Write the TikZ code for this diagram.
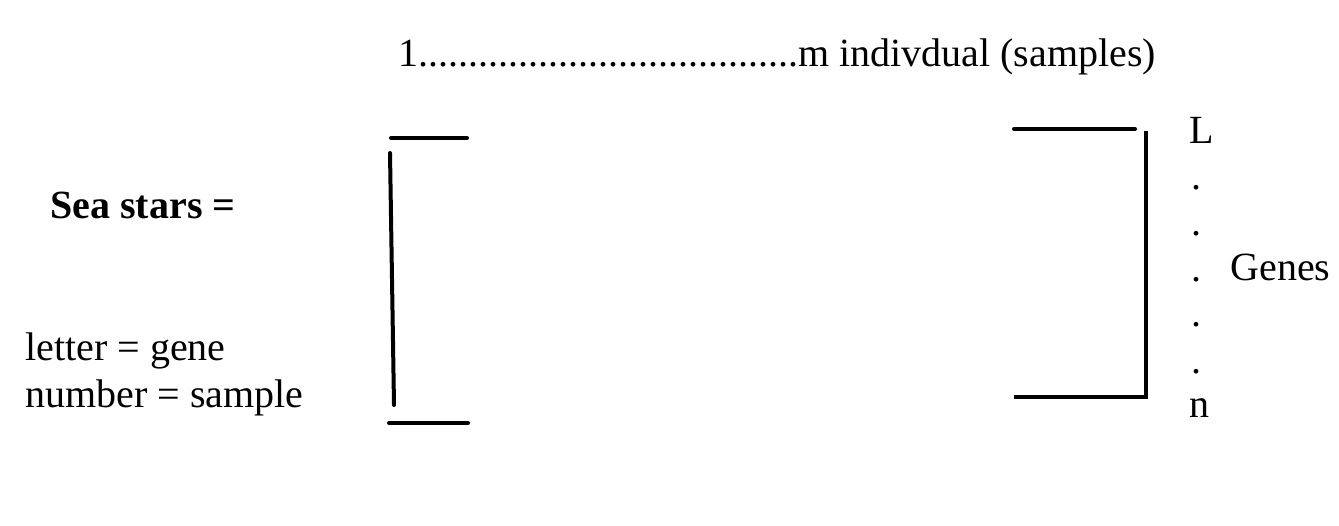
\documentclass[tikz,border=0pt]{standalone}
\usepackage{fontspec}
\setmainfont{Liberation Serif}
\begin{document}
\begin{tikzpicture}[x=0.5pt,y=-0.5pt,
  lbl/.style={inner sep=0pt, anchor=base west, font=\fontsize{20}{24}\selectfont},
  brk/.style={line width=2pt, line cap=round}]
\useasboundingbox (0,0) rectangle (1339,525);
\node[lbl] (top) at (398,66) {1......................................m indivdual (samples)};
\node[lbl, font=\fontsize{20}{24}\selectfont\bfseries] (sea) at (50,218) {Sea stars =};
\node[lbl] (letter) at (25,360) {letter = gene};
\node[lbl] (number) at (25,407) {number = sample};
% left bracket
\coordinate (l1) at (391,138); \coordinate (l2) at (467,138);
\coordinate (l3) at (390,153); \coordinate (l4) at (394,405);
\coordinate (l5) at (389,423); \coordinate (l6) at (468,423);
\draw[brk] (l1) -- (l2);
\draw[brk] (l3) -- (l4);
\draw[brk] (l5) -- (l6);
% right bracket
\coordinate (r1) at (1014,129); \coordinate (r2) at (1135,129);
\coordinate (r3) at (1146,131); \coordinate (r4) at (1146,397);
\coordinate (r5) at (1014,397);
\draw[brk] (r1) -- (r2);
\draw[brk, line cap=butt] (r3) -- (r4) -- (r5);
% gene labels
\node[lbl] (L) at (1189,143) {L};
\node[lbl] (d1) at (1191,189) {.};
\node[lbl] (d2) at (1191,235) {.};
\node[lbl] (d3) at (1191,281) {.};
\node[lbl] (d4) at (1191,326) {.};
\node[lbl] (d5) at (1191,373) {.};
\node[lbl] (n) at (1189,417) {n};
\node[lbl] (genes) at (1230,280) {Genes};
\end{tikzpicture}
\end{document}
